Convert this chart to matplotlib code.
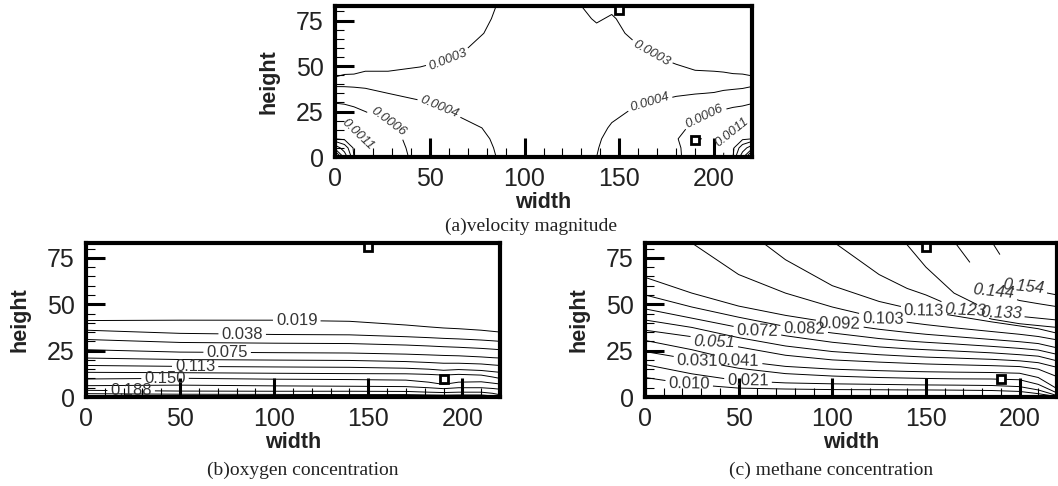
import numpy as np
import matplotlib
matplotlib.use("Agg")
import matplotlib.pyplot as plt
from matplotlib.ticker import MultipleLocator

plt.rcParams['font.family'] = ['Liberation Sans', 'DejaVu Sans']

# ---------------- data ----------------
# obstacles (small squares) common to all panels
hole_x = [150, 190]
hole_y = [81, 9.5]

# (a) velocity magnitude, sampled values in units of 1e-4 (one list per width station)
vel_x = [0, 5, 10, 16, 28, 45, 65, 85, 110, 130, 138, 146, 160, 180, 190, 200, 205, 210, 215, 220]
vel_y = [0, 5, 10, 16, 25, 35, 44, 55, 68, 76, 83]
vel_columns_e4 = [
    [150, 55, 20, 11, 7.1, 4.7, 3.0, 2.6, 2.4, 2.3, 2.2],
    [55, 37, 18.2, 10.5, 6.9, 4.65, 3.05, 2.65, 2.4, 2.3, 2.2],
    [20, 18.2, 13.8, 9.8, 6.5, 4.57, 3.05, 2.7, 2.45, 2.35, 2.25],
    [11, 10.6, 9.9, 8.5, 6.0, 4.4, 3.1, 2.75, 2.5, 2.4, 2.3],
    [7.2, 7.0, 6.8, 6.4, 5.3, 4.0, 3.08, 2.8, 2.55, 2.45, 2.35],
    [5.3, 5.2, 5.0, 4.8, 4.4, 3.75, 3.15, 2.85, 2.6, 2.5, 2.4],
    [4.8, 4.7, 4.5, 4.25, 3.9, 3.6, 3.3, 3.0, 2.75, 2.65, 2.6],
    [4.0, 3.95, 3.9, 3.85, 3.7, 3.55, 3.4, 3.25, 3.12, 3.05, 3.0],
    [3.7, 3.68, 3.65, 3.6, 3.5, 3.42, 3.36, 3.3, 3.22, 3.15, 3.1],
    [3.85, 3.82, 3.78, 3.7, 3.55, 3.42, 3.35, 3.28, 3.2, 3.1, 3.0],
    [4.0, 3.95, 3.9, 3.8, 3.6, 3.45, 3.35, 3.25, 3.12, 2.95, 2.85],
    [4.4, 4.3, 4.2, 4.07, 3.85, 3.6, 3.45, 3.3, 3.15, 3.05, 2.9],
    [4.9, 4.8, 4.6, 4.4, 4.1, 3.8, 3.55, 3.15, 2.85, 2.75, 2.7],
    [5.6, 5.5, 5.3, 5.0, 4.5, 3.9, 3.26, 2.85, 2.6, 2.5, 2.45],
    [7.0, 7.5, 12, 6.8, 5.2, 3.95, 3.1, 2.8, 2.55, 2.45, 2.4],
    [9.7, 9.5, 9.0, 7.5, 5.85, 4.05, 3.1, 2.75, 2.5, 2.4, 2.35],
    [11, 10.7, 10, 8.4, 6.2, 4.2, 3.08, 2.75, 2.5, 2.4, 2.35],
    [20, 18.2, 13.8, 10, 6.5, 4.3, 3.05, 2.75, 2.5, 2.4, 2.3],
    [55, 37, 18.2, 10.5, 6.7, 4.4, 3.05, 2.7, 2.45, 2.35, 2.3],
    [150, 55, 20, 10.7, 7.0, 4.7, 3.02, 2.65, 2.4, 2.3, 2.25],
]
vel_levels = [0.0003, 0.0004, 0.0006, 0.0011, 0.0020, 0.0030, 0.0045, 0.0065, 0.0090]
vel_labeled = [0.0003, 0.0004, 0.0006, 0.0011]

# (b) oxygen concentration: height of each isoline at width stations
oxy_x = [0, 50, 100, 140, 170, 182, 190, 198, 210, 216, 220]
oxy_levels = [0.019, 0.038, 0.056, 0.075, 0.094, 0.113, 0.131, 0.150, 0.169, 0.188, 0.206]
oxy_heights = [
    [41.2, 41.4, 41.4, 40.8, 38.8, 37.8, 37.2, 36.8, 36.0, 35.4, 35.0],
    [36.0, 34.3, 33.7, 33.5, 32.5, 32.0, 31.6, 31.3, 30.7, 30.3, 30.0],
    [31.0, 29.4, 29.0, 28.8, 28.0, 27.5, 27.1, 26.8, 26.2, 25.8, 25.5],
    [25.5, 24.2, 23.9, 23.7, 23.1, 22.7, 22.4, 22.2, 21.6, 21.2, 21.0],
    [21.0, 20.2, 19.9, 19.7, 19.1, 18.6, 18.2, 18.2, 17.8, 17.3, 17.0],
    [17.0, 16.5, 16.2, 16.0, 15.5, 15.0, 14.4, 14.8, 14.3, 13.7, 13.3],
    [13.3, 13.1, 12.8, 12.6, 12.5, 12.2, 11.8, 12.2, 11.8, 10.8, 10.0],
    [9.7, 10.1, 9.6, 9.4, 9.1, 8.0, 6.8, 8.0, 8.2, 7.5, 7.0],
    [6.1, 6.4, 6.0, 5.8, 5.6, 5.0, 4.5, 5.0, 5.0, 4.6, 4.2],
    [3.6, 3.2, 3.1, 3.1, 3.0, 2.6, 2.4, 2.6, 2.6, 2.0, 1.2],
    [1.8, 1.5, 1.4, 1.3, 1.3, 1.1, 1.0, 1.1, 1.1, 0.6, -0.5],
]
oxy_floor, oxy_ceiling = 0.25, 0.0          # values beyond the drawn isolines
oxy_labeled = [0.019, 0.038, 0.075, 0.113, 0.150, 0.188]

# (c) methane concentration: height of each isoline at width stations
met_x = [0, 25, 50, 75, 100, 125, 140, 150, 165, 185, 200, 210, 220]
met_levels = [0.010, 0.021, 0.031, 0.041, 0.051, 0.062, 0.072, 0.082,
              0.092, 0.103, 0.113, 0.123, 0.133, 0.144, 0.154]
met_heights = [
    [10.5, 6.8, 4.8, 4.3, 4.0, 3.9, 3.8, 3.8, 3.7, 3.5, 3.0, 1.8, 0.2],
    [17.5, 12.5, 8.8, 7.6, 7.1, 6.8, 6.6, 6.5, 6.4, 6.2, 5.6, 3.8, 0.8],
    [24.5, 20.2, 15.5, 12.6, 11.3, 10.5, 10.2, 10.0, 9.8, 9.7, 9.3, 6.8, 2.2],
    [30.5, 25.5, 19.5, 16.5, 15.0, 14.2, 13.8, 13.6, 13.4, 13.2, 12.8, 10.5, 4.5],
    [36.0, 32.5, 27.0, 22.5, 20.0, 18.8, 18.2, 17.8, 17.4, 16.9, 16.4, 15.0, 11.0],
    [41.5, 37.5, 32.0, 27.5, 24.5, 22.8, 22.0, 21.5, 21.0, 20.3, 19.5, 18.5, 16.0],
    [47.5, 42.5, 37.5, 33.0, 29.5, 27.0, 26.0, 25.5, 24.8, 23.8, 22.8, 22.0, 19.5],
    [55.0, 48.5, 43.0, 38.0, 34.5, 31.5, 30.2, 29.5, 28.6, 27.3, 26.2, 25.3, 23.0],
    [64.5, 56.0, 49.0, 44.0, 40.0, 36.5, 34.8, 33.8, 32.6, 31.0, 29.8, 28.8, 26.5],
    [88, 83, 66, 56, 48.5, 42.5, 40.3, 39.0, 37.3, 35.3, 33.8, 32.6, 30.8],
    [140, 110, 93, 74, 60, 51.5, 48.0, 46.2, 43.8, 40.5, 38.3, 36.8, 34.4],
    [190, 160, 135, 110, 84, 66, 58.5, 55.0, 48.5, 42.0, 39.5, 38.5, 37.5],
    [240, 210, 180, 155, 125, 100, 82, 70, 56, 46, 43.5, 42.5, 41.5],
    [300, 270, 240, 210, 180, 150, 125, 110, 84, 57, 52, 50.3, 48.7],
    [360, 330, 300, 270, 240, 210, 190, 170, 130, 84, 60, 57, 55],
]
met_floor, met_ceiling = 0.0, 0.17
met_labeled = [0.010, 0.021, 0.031, 0.041, 0.051, 0.072, 0.082, 0.092,
               0.103, 0.113, 0.123, 0.133, 0.144, 0.154]

captions = ['(a)velocity magnitude', '(b)oxygen concentration', '(c) methane concentration']
x_title, y_title = 'width', 'height'


# ---------------- helpers ----------------
def iso_grid(xs, heights, levels, floor_val, ceil_val, lo=-60.0, hi=600.0):
    h = np.array(heights, dtype=float)
    order = np.argsort(h[:, 0])
    h = h[order]
    z = np.array(levels, dtype=float)[order]
    n = len(xs)
    Y = np.vstack([np.full(n, lo), h, np.full(n, hi)])
    Z = np.vstack([np.full(n, floor_val), np.repeat(z[:, None], n, axis=1),
                   np.full(n, ceil_val)])
    X = np.tile(np.array(xs, dtype=float), (Y.shape[0], 1))
    return X, Y, Z


def draw_field(ax, X, Y, Z, levels, labeled, fmt, fontsize, positions):
    plain = [lv for lv in levels if lv not in labeled]
    if plain:
        ax.contour(X, Y, Z, levels=plain, colors='black', linewidths=0.7)
    cs = ax.contour(X, Y, Z, levels=labeled, colors='black', linewidths=0.7)
    texts = ax.clabel(cs, fmt=fmt, fontsize=fontsize, inline=True, inline_spacing=3,
                      colors='#333333', manual=positions)
    for t in texts:
        r = t.get_rotation() % 180
        if 1.5 < r < 178.5:
            t.set_fontstyle('italic')


def style(ax):
    ax.set_xlim(0, 220)
    ax.set_ylim(0, 83)
    ax.xaxis.set_major_locator(MultipleLocator(50))
    ax.xaxis.set_minor_locator(MultipleLocator(10))
    ax.yaxis.set_major_locator(MultipleLocator(25))
    ax.yaxis.set_minor_locator(MultipleLocator(5))
    ax.tick_params(which='major', direction='in', length=13.5, width=2.2,
                   labelsize=18, top=False, right=False, colors='black',
                   labelcolor='#222222')
    ax.tick_params(which='minor', direction='in', length=6.5, width=0.8,
                   top=False, right=False)
    ax.tick_params(axis='x', which='major', pad=7)
    ax.tick_params(axis='y', which='major', pad=8)
    for s in ax.spines.values():
        s.set_linewidth(3)
    ax.set_xlabel(x_title, fontsize=15.5, fontweight='bold', labelpad=1, color='#222222')
    ax.set_ylabel(y_title, fontsize=15.5, fontweight='bold', labelpad=12, color='#222222')
    ax.plot(hole_x, hole_y, linestyle='none', marker='s', markersize=5.5,
            markerfacecolor='white', markeredgecolor='black', markeredgewidth=2,
            zorder=5, clip_on=False)


W, H = 1058, 486
fig = plt.figure(figsize=(W / 100, H / 100), dpi=100)


def add_axes(left, top, right, bottom):
    return fig.add_axes([left / W, 1 - bottom / H, (right - left) / W, (bottom - top) / H])


ax_a = add_axes(335, 6, 752, 157)
ax_b = add_axes(86, 243, 500, 397)
ax_c = add_axes(645, 243, 1057, 397)

# (a)
Xa, Ya = np.meshgrid(vel_x, vel_y)
Za = np.array(vel_columns_e4, dtype=float).T * 1e-4
draw_field(ax_a, Xa, Ya, Za, vel_levels, vel_labeled, '%.4f', 9.5,
           [(60, 53), (167, 57), (55, 27), (166, 30),
            (28, 19), (195, 22), (11, 11), (210, 13)])

# (b)
Xb, Yb, Zb = iso_grid(oxy_x, oxy_heights, oxy_levels, oxy_floor, oxy_ceiling)
draw_field(ax_b, Xb, Yb, Zb, oxy_levels, oxy_labeled, '%.3f', 12,
           [(112, 41.3), (83, 33.9), (75, 24), (58, 16.5), (42, 10), (24, 3.2)])

# (c)
Xc, Yc, Zc = iso_grid(met_x, met_heights, met_levels, met_floor, met_ceiling)
draw_field(ax_c, Xc, Yc, Zc, met_levels, met_labeled, '%.3f', 12,
           [(23.6, 7.0), (55, 8.5), (28, 20), (50, 19.3), (37, 30),
            (60, 36), (85, 36.5), (104, 40), (127, 42), (149, 46),
            (171, 47), (190, 45), (186, 56), (202, 59)])

for ax in (ax_a, ax_b, ax_c):
    style(ax)

cap_kw = dict(fontsize=14, family=['Liberation Serif', 'DejaVu Serif'],
              ha='center', va='center', color='#222222')
fig.text(531 / W, 1 - 226 / H, captions[0], **cap_kw)
fig.text(303 / W, 1 - 470 / H, captions[1], **cap_kw)
fig.text(831 / W, 1 - 470 / H, captions[2], **cap_kw)

fig.savefig('out.png', dpi=100)
